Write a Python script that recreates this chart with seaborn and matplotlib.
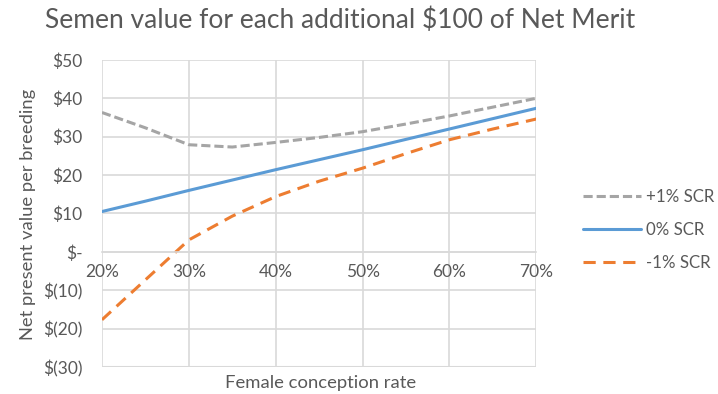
import matplotlib
matplotlib.use("Agg")
import matplotlib.pyplot as plt
import seaborn as sns
import pandas as pd
from matplotlib.ticker import FuncFormatter

conception = [20, 25, 30, 35, 40, 45, 50, 55, 60, 65, 70]
plus1 = [36.3, 32.3, 27.9, 27.3, 28.5, 29.8, 31.3, 33.3, 35.4, 37.7, 40.0]
zero = [10.5, 13.2, 16.0, 18.7, 21.4, 24.0, 26.6, 29.3, 32.0, 34.7, 37.4]
minus1 = [-17.7, -7.3, 3.1, 9.3, 14.4, 18.4, 21.8, 25.6, 29.2, 32.0, 34.6]
series_names = ["+1% SCR", "0% SCR", "-1% SCR"]
y_ticks = [-30, -20, -10, 0, 10, 20, 30, 40, 50]
x_ticks = [20, 30, 40, 50, 60, 70]

sns.set_theme(style="white")
plt.rcParams['font.family'] = ['Lato', 'DejaVu Sans']

df = pd.DataFrame({
    "x": conception * 3,
    "y": plus1 + zero + minus1,
    "s": [series_names[0]] * len(conception) + [series_names[1]] * len(conception) + [series_names[2]] * len(conception),
})

fig = plt.figure(figsize=(7.18, 3.94), dpi=100)
ax = fig.add_axes([0.142, 0.0685, 0.605, 0.7795])

palette = {"+1% SCR": "#A5A5A5", "0% SCR": "#5B9BD5", "-1% SCR": "#ED7D31"}
sns.lineplot(data=df, x="x", y="y", hue="s", palette=palette, ax=ax, linewidth=2.2, legend=False)
lines = ax.get_lines()
lines[0].set_dashes([3, 1.3])
lines[2].set_dashes([4, 2.5])

ax.set_xlim(20, 70)
ax.set_ylim(-30, 50)
ax.set_xticks(x_ticks)
ax.set_yticks(y_ticks)
ax.xaxis.set_major_formatter(FuncFormatter(lambda v, p: f"{int(v)}%"))

def yfmt(v, p):
    v = int(round(v))
    if v == 0:
        return "$-"
    if v < 0:
        return f"$({-v})"
    return f"${v}"
ax.yaxis.set_major_formatter(FuncFormatter(yfmt))

ax.grid(True, color="#D9D9D9", linewidth=1.2)
ax.set_axisbelow(True)
for name in ["top", "right", "left"]:
    ax.spines[name].set_visible(False)
ax.spines["bottom"].set_position(("data", 0))
ax.spines["bottom"].set_color("#D9D9D9")
ax.spines["bottom"].set_linewidth(1.2)
ax.tick_params(axis="both", length=0, colors="#595959", labelsize=12.5)
ax.tick_params(axis="x", pad=9)
ax.tick_params(axis="y", pad=14)
ax.axhline(-30, color="#D9D9D9", linewidth=1.5, zorder=0)

ax.set_xlabel("")
ax.set_ylabel("")
fig.text(0.446, 0.028, "Female conception rate", ha="center", va="center", fontsize=13.3, color="#595959")
fig.text(0.039, 0.457, "Net present value per breeding", ha="center", va="center", rotation=90, fontsize=13.2, color="#595959")
fig.text(0.474, 0.949, "Semen value for each additional $100 of Net Merit", ha="center", va="center", fontsize=19, color="#595959")

handles = [lines[0], lines[1], lines[2]]
leg = fig.legend(handles, series_names, loc="center left", bbox_to_anchor=(0.812, 0.417), frameon=False,
                 handlelength=3.4, labelspacing=1.0, fontsize=12.2, labelcolor="#595959", handletextpad=0.3,
                 borderaxespad=0, borderpad=0)

fig.savefig("out.png", dpi=100)
